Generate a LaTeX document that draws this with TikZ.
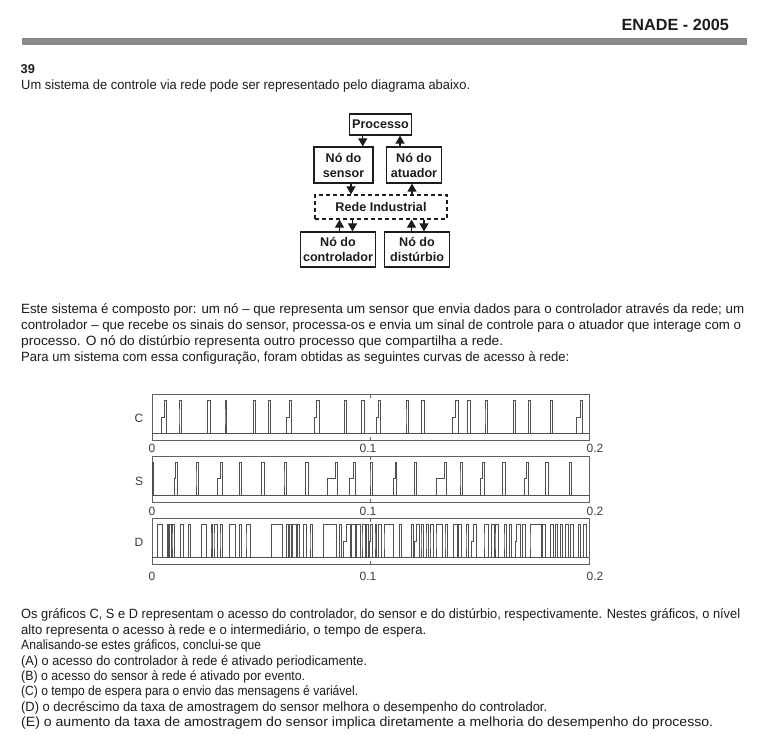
\documentclass[tikz,border=0pt]{standalone}
\usepackage{graphicx}
\usepackage{fontspec}
\setmainfont{Liberation Sans}
\usetikzlibrary{arrows.meta}
\definecolor{ink}{HTML}{1C1C1C}
\definecolor{barg}{HTML}{8A8A8A}
\definecolor{sig}{HTML}{505050}
\newsavebox\fitbox
\newcommand{\fitl}[2]{\sbox\fitbox{#2}\resizebox{#1pt}{\ht\fitbox}{\usebox\fitbox}}
\begin{document}
\begin{tikzpicture}[x=1pt,y=-1pt,
  txt/.style={anchor=base west, inner sep=0pt, text=ink, font=\fontsize{13.4}{15}\selectfont},
  blk/.style={draw=ink, line width=1.2pt, inner sep=0pt, align=center, text=ink,
     font=\bfseries\fontsize{12.6}{15}\selectfont},
  net/.style={blk, dashed, dash pattern=on 4pt off 3pt},
  arr/.style={draw=ink, line width=1.1pt, -{Triangle[length=8pt,width=9pt]}},
  sigl/.style={draw=sig, line width=0.8pt},
  frame/.style={draw=sig!90, line width=0.9pt},
  axl/.style={inner sep=0pt, text=ink!85, font=\fontsize{12}{14}\selectfont},
]
\useasboundingbox (0,0) rectangle (759,752);
\fill[white] (0,0) rectangle (759,752);

% header
\node[anchor=base east, inner sep=0pt, text=ink, font=\bfseries\fontsize{16.2}{18}\selectfont] (hdr) at (729,31) {ENADE - 2005};
\fill[barg] (22,38) rectangle (747,45);
\node[anchor=base west, inner sep=0pt, text=ink, font=\bfseries\fontsize{12.8}{15}\selectfont] (num) at (20.5,73) {39};
\node[txt] (t0) at (21,89) {\fitl{449}{Um sistema de controle via rede pode ser representado pelo diagrama abaixo.}};

% block diagram
\node[blk, minimum width=62pt, minimum height=21pt] (proc) at (380.5,124.5) {Processo};
\node[blk, minimum width=59pt, minimum height=36pt] (sens) at (343.5,165) {Nó do\\sensor};
\node[blk, minimum width=55pt, minimum height=36pt] (atua) at (414,165) {Nó do\\atuador};
\node[net, minimum width=132pt, minimum height=24pt] (rede) at (381,207) {Rede Industrial};
\node[blk, minimum width=75pt, minimum height=35pt] (ctrl) at (338,249.5) {Nó do\\controlador};
\node[blk, minimum width=65pt, minimum height=35pt] (dist) at (417,249.5) {Nó do\\distúrbio};

\coordinate (xa) at (362.7,0);
\coordinate (xb) at (400,0);
\coordinate (xc) at (351,0);
\coordinate (xd) at (412,0);
\coordinate (xe) at (339.5,0);
\coordinate (xf) at (352.5,0);
\coordinate (xg) at (411.5,0);
\coordinate (xh) at (424,0);

\draw[arr] (proc.south -| xa) -- (sens.north -| xa);
\draw[arr] (atua.north -| xb) -- (proc.south -| xb);
\draw[arr] (sens.south -| xc) -- (rede.north -| xc);
\draw[arr] (rede.north -| xd) -- (atua.south -| xd);
\draw[arr] (ctrl.north -| xe) -- (rede.south -| xe);
\draw[arr] (rede.south -| xf) -- (ctrl.north -| xf);
\draw[arr] (dist.north -| xg) -- (rede.south -| xg);
\draw[arr] (rede.south -| xh) -- (dist.north -| xh);

% paragraph
\node[txt] (p1) at (21,313.5) {\fitl{723}{Este sistema é composto por: um nó – que representa um sensor que envia dados para o controlador através da rede; um}};
\node[txt] (p2) at (21,329.5) {\fitl{720}{controlador – que recebe os sinais do sensor, processa-os e envia um sinal de controle para o atuador que interage com o}};
\node[txt] (p3) at (21,345.5) {\fitl{482}{processo. O nó do distúrbio representa outro processo que compartilha a rede.}};
\node[txt] (p4) at (21,361) {\fitl{548}{Para um sistema com essa configuração, foram obtidas as seguintes curvas de acesso à rede:}};

% ---- chart C
\draw[frame] (152,394) rectangle (589,440);
\draw[frame] (370.5,394) -- (370.5,397.5) (370.5,440) -- (370.5,436.5);
\def\hi{400}\def\mi{417}\def\lo{433}
\draw[sigl] (152,\lo) -- (589,\lo);
\foreach \a/\b/\c in {161.7/164/166.7,179/179/181.3,207.7/207.7/210,225/225/226.7,253.3/253.3/255.7,
  268.3/268.3/270.7,286.7/289/291.7,314/316.7/319.3,344.3/344.3/346.7,361.7/361.7/364,
  376/378.3/380.7,406/406/408.3,421.7/421.7/424,452.7/455.7/458,467.3/467.3/470,
  485/485/487.3,513.3/513.3/515.7,528.3/528.3/530.7,550/550/552.3,576/580/582.7}
  \draw[sigl] (\a,\lo) -- (\a,\mi) -- (\b,\mi) -- (\b,\hi) -- (\c,\hi) -- (\c,\lo);
\node[axl] (lc) at (139,418) {C};
\node[axl] (c0) at (152,448) {0};
\node[axl] (c1) at (368,448) {0.1};
\node[axl] (c2) at (595,448) {0.2};

% ---- chart S
\draw[frame] (152,456) rectangle (589,502);
\draw[frame] (370.5,456) -- (370.5,459.5) (370.5,502) -- (370.5,498.5);
\def\hi{462.5}\def\mi{478}\def\lo{495}
\draw[sigl] (152,\lo) -- (589,\lo);
\foreach \a/\b/\c in {152.4/152.4/153.6,174.7/175.7/177.3,196/196/198.3,217.7/220/222.3,239.3/239.3/241.7,
  261.7/261.7/264,284/284/286.3,305.7/305.7/308,327.7/335/337.3,349.3/353.3/355.7,
  370/370/372.3,393.3/395/396.7,414.3/414.3/416.7,436/444/446.7,460/460/462.3,
  480.7/482.3/484.3,502.7/502.7/505,524.3/526/528.3,545.7/545.7/548,569.3/569.3/571.7}
  \draw[sigl] (\a,\lo) -- (\a,\mi) -- (\b,\mi) -- (\b,\hi) -- (\c,\hi) -- (\c,\lo);
\node[axl] (ls) at (139,481) {S};
\node[axl] (s0) at (152,511) {0};
\node[axl] (s1) at (368,511) {0.1};
\node[axl] (s2) at (595,511) {0.2};

% ---- chart D
\draw[frame] (152,518) rectangle (589,564);
\draw[frame] (370.5,518) -- (370.5,521.5) (370.5,564) -- (370.5,560.5);
\def\hi{524.5}\def\mi{541}\def\lo{557}
\draw[sigl] (152,\lo) -- (589,\lo);
\foreach \a/\b/\c in {157.3/157.3/162.7,167.3/167.3/168.7,169.7/169.7/171,172/172/174.7,180.7/180.7/183.3,
  188.3/188.3/190.7,201.7/201.7/206,211/211/212.7,214/214/217.3,220/220/222.7,
  229.3/229.3/235,239.3/239.3/241.7,246/246/250,271.7/271.7/282.7,286.7/286.7/288.3,
  289.7/289.7/291.3,292.7/292.7/296,297.3/297.3/299.3,303.3/303.3/306.7,310/310/312.7,
  323.3/323.3/336.7,339.3/339.3/341.7,343.3/346/350,351.7/351.7/355,356.7/356.7/360,
  362/362/365,366.5/366.5/368,369.3/370.7/372.7,375/375/376.7,378.3/378.3/381.7,
  384/384/393.3,399.3/399.3/401,411.7/411.7/413.3,414.3/416/419.3,421/421/423.3,
  426/426/428.3,430/430/433.3,436/436/442.7,445/445/447.3,453.3/453.3/457.3,
  458.3/458.3/461.7,466/466/468.3,471/473.3/476.7,484/484/488.3,491.7/491.7/494,
  495/495/498.3,504/504/506.7,509.3/509.3/511.7,515/516.7/520,522.7/522.7/525,
  530/530/541.7,542.7/542.7/545,550/550/553.3,555/555/557.3,560/560/562.7,
  565/565/568.3,570.7/570.7/573.3,578.3/578.3/580.7,583.3/583.3/586}
  \draw[sigl] (\a,\lo) -- (\a,\mi) -- (\b,\mi) -- (\b,\hi) -- (\c,\hi) -- (\c,\lo);
\node[axl] (ld) at (139,542) {D};
\node[axl] (d0) at (152,576) {0};
\node[axl] (d1) at (368,576) {0.1};
\node[axl] (d2) at (595,576) {0.2};

% bottom text
\node[txt] (b1) at (21,618.5) {\fitl{719}{Os gráficos C, S e D representam o acesso do controlador, do sensor e do distúrbio, respectivamente. Nestes gráficos, o nível}};
\node[txt] (b2) at (21,634) {\fitl{405}{alto representa o acesso à rede e o intermediário, o tempo de espera.}};
\node[txt] (b3) at (21,649.5) {\fitl{240}{Analisando-se estes gráficos, conclui-se que}};
\node[txt] (b4) at (21,665) {\fitl{346}{(A) o acesso do controlador à rede é ativado periodicamente.}};
\node[txt] (b5) at (21,680) {\fitl{284}{(B) o acesso do sensor à rede é ativado por evento.}};
\node[txt] (b6) at (21,695.5) {\fitl{337}{(C) o tempo de espera para o envio das mensagens é variável.}};
\node[txt] (b7) at (21,711) {\fitl{526}{(D) o decréscimo da taxa de amostragem do sensor melhora o desempenho do controlador.}};
\node[txt] (b8) at (21,726.5) {\fitl{692}{(E) o aumento da taxa de amostragem do sensor implica diretamente a melhoria do desempenho do processo.}};
\end{tikzpicture}
\end{document}
